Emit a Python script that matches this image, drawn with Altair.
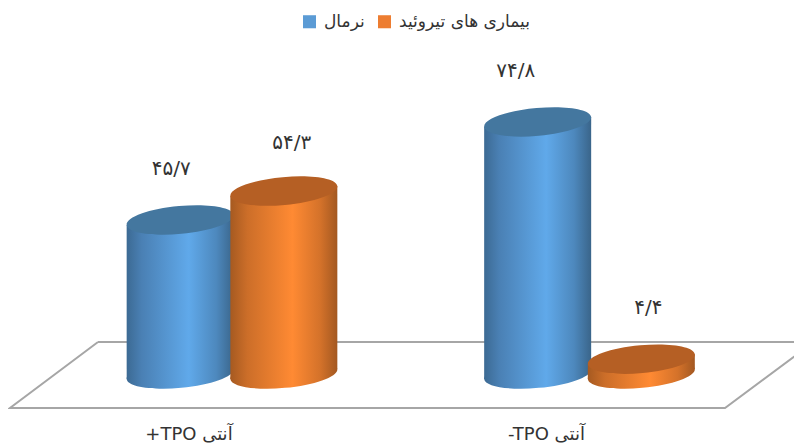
import altair as alt
import pandas as pd

# --- data ---
groups = ["+TPO آنتی", "-TPO آنتی"]
series = ["نرمال", "بیماری های تیروئید"]
normal_values = [45.7, 74.8]
thyroid_values = [54.3, 4.4]

FA = str.maketrans("0123456789.", "۰۱۲۳۴۵۶۷۸۹/")
FONT = "DejaVu Sans"

# --- layout of the pseudo-3D scene ---
W, H = 786, 436
PX0, PY0 = 232.0, 374.0      # page pixel of group 0 / value 0
STEP, UNIT = 357.5, 3.37     # pixels per group / per value unit
OFFSET = 0.145               # cylinder centre offset from group centre
HALF = 53.5 / STEP           # half cylinder width in group units
TILT = 4.9 / UNIT            # ellipse tilt in value units
ELLIPSE = "M-1,0.092A1.004,0.26,-5.3,1,1,1,-0.092A1.004,0.26,-5.3,1,1,-1,0.092Z"
SIZE = 107 ** 2

xscale = alt.Scale(domain=[(8 - PX0) / STEP, (8 + W - PX0) / STEP], range=[0, W], nice=False, zero=False)
yscale = alt.Scale(domain=[(PY0 - 8 - H) / UNIT, (PY0 - 8) / UNIT], range=[H, 0], nice=False, zero=False)
X = alt.X("x:Q", scale=xscale, axis=None)
Y = alt.Y("y:Q", scale=yscale, axis=None)


def u(px):
    return (px - PX0) / STEP


def v(py):
    return (PY0 - py) / UNIT


def grad(stops):
    return alt.Gradient(
        gradient="linear", x1=0, x2=1, y1=0, y2=0,
        stops=[alt.GradientStop(offset=o, color=c) for o, c in stops],
    )


BLUE = grad([(0, "#3c6a93"), (0.14, "#4a80b4"), (0.58, "#60a9ea"), (0.84, "#4d88bd"), (1, "#3a658a")])
ORANGE = grad([(0, "#a65a21"), (0.16, "#cc6e29"), (0.58, "#ff8a33"), (0.84, "#d4722a"), (1, "#a35821")])
TOPS = {"n": "#44779f", "t": "#b55f24"}

# floor outline
floor_lines = [
    [(98, 342), (830, 342)],
    [(98, 342), (10, 408), (725, 408), (830, 330)],
]
layers = []
for line in floor_lines:
    d = pd.DataFrame({"x": [u(p[0]) for p in line], "y": [v(p[1]) for p in line], "o": range(len(line))})
    layers.append(
        alt.Chart(d).mark_line(color="#a6a6a6", strokeWidth=2, clip=True, interpolate="linear")
        .encode(x=X, y=Y, order="o:Q")
    )

# cylinders, drawn back to front
cyl = []
for g, (a, b) in enumerate(zip(normal_values, thyroid_values)):
    cyl.append((g - OFFSET, a, BLUE, TOPS["n"], -9 if g == 0 else -22, -51))
    cyl.append((g + OFFSET, b, ORANGE, TOPS["t"], 8 if g == 0 else 7, -48 if g == 0 else -51))

for cx, val, fill, top, dx, dy in cyl:
    body = pd.DataFrame({
        "x": [cx - HALF, cx + HALF],
        "y": [val - TILT, val + TILT],
        "y0": [-TILT, TILT],
    })
    layers.append(
        alt.Chart(body).mark_area(fill=fill, opacity=1, line=False)
        .encode(x=X, y=Y, y2="y0:Q")
    )
    base = pd.DataFrame({"x": [cx], "y": [0.0]})
    layers.append(
        alt.Chart(base).mark_point(shape=ELLIPSE, size=SIZE, filled=True, fill=fill, opacity=1, strokeWidth=0)
        .encode(x=X, y=Y)
    )
    lid = pd.DataFrame({"x": [cx], "y": [val]})
    layers.append(
        alt.Chart(lid).mark_point(shape=ELLIPSE, size=SIZE, filled=True, fill=top, opacity=1, strokeWidth=0)
        .encode(x=X, y=Y)
    )

# value labels
for cx, val, fill, top, dx, dy in cyl:
    d = pd.DataFrame({"x": [cx], "y": [val], "t": [f"{val}".translate(FA)]})
    layers.append(
        alt.Chart(d).mark_text(font=FONT, fontSize=20, color="#333333", dx=dx, dy=dy)
        .encode(x=X, y=Y, text="t:N")
    )

# category labels
cats = pd.DataFrame({"x": [0.0, 1.0], "t": groups})
layers.append(
    alt.Chart(cats).mark_text(font=FONT, fontSize=18, color="#333333", dx=-43)
    .encode(x=X, y=alt.value(427), text="t:N")
)

# legend
leg = pd.DataFrame({"s": series})
layers.append(
    alt.Chart(leg).mark_square(size=1, opacity=0)
    .encode(
        x=alt.value(0), y=alt.value(0),
        color=alt.Color(
            "s:N",
            scale=alt.Scale(domain=series, range=["#5b9bd5", "#ed7d31"]),
            legend=alt.Legend(
                orient="none", legendX=293, legendY=5, direction="horizontal", title=None,
                symbolType="square", symbolSize=170, symbolOpacity=1, symbolStrokeWidth=0,
                labelFont=FONT, labelFontSize=17, labelColor="#333333", columnPadding=11,
                padding=0, labelOffset=6,
            ),
        ),
    )
)

chart = (
    alt.layer(*layers)
    .resolve_scale(x="shared", y="shared")
    .properties(width=W, height=H, padding=0, autosize=alt.AutoSizeParams(type="none"), background="#ffffff")
    .configure_view(stroke=None)
)
chart.save("out.html", embed_options={"renderer": "svg", "actions": False})
